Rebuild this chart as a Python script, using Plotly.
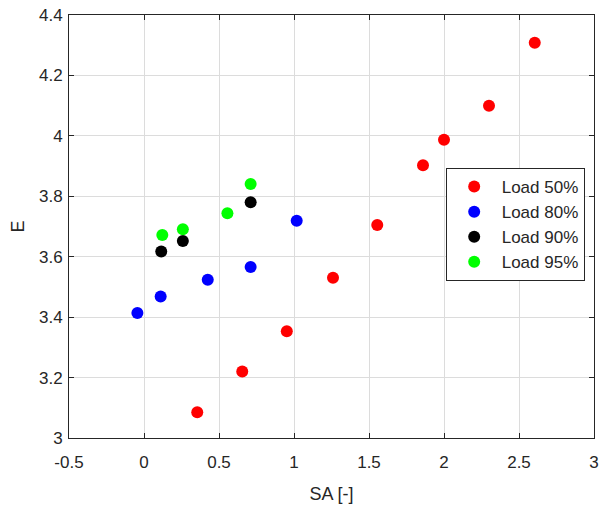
import plotly.graph_objects as go

sa_50 = [0.355, 0.655, 0.952, 1.26, 1.555, 1.86, 2.00, 2.30, 2.605]
e_50 = [3.085, 3.220, 3.353, 3.530, 3.705, 3.903, 3.987, 4.100, 4.308]

sa_80 = [-0.044, 0.111, 0.425, 0.711, 1.018]
e_80 = [3.414, 3.468, 3.524, 3.566, 3.719]

sa_90 = [0.115, 0.259, 0.711]
e_90 = [3.617, 3.652, 3.780]

sa_95 = [0.122, 0.259, 0.556, 0.711]
e_95 = [3.672, 3.691, 3.744, 3.841]

series = [
    ("Load 50%", sa_50, e_50, "#ff0000"),
    ("Load 80%", sa_80, e_80, "#0000ff"),
    ("Load 90%", sa_90, e_90, "#000000"),
    ("Load 95%", sa_95, e_95, "#00ff00"),
]

x_ticks = [-0.5, 0, 0.5, 1, 1.5, 2, 2.5, 3]
x_labels = ["-0.5", "0", "0.5", "1", "1.5", "2", "2.5", "3"]
y_ticks = [3, 3.2, 3.4, 3.6, 3.8, 4, 4.2, 4.4]
y_labels = ["3", "3.2", "3.4", "3.6", "3.8", "4", "4.2", "4.4"]

fig = go.Figure()
for name, xs, ys, col in series:
    fig.add_trace(go.Scatter(x=xs, y=ys, mode="markers", name=name,
                             marker=dict(color=col, size=12, line=dict(width=0))))

font = "Arial, Liberation Sans, sans-serif"
axis_common = dict(showgrid=True, gridcolor="#dcdcdc", gridwidth=1,
                   showline=True, linecolor="#262626", linewidth=1, mirror="ticks",
                   ticks="inside", ticklen=5, tickcolor="#262626", zeroline=False,
                   automargin=False, ticklabeloverflow="allow",
                   tickfont=dict(family=font, size=17, color="#262626"))

fig.update_layout(
    width=599, height=506,
    margin=dict(l=69, r=5, t=15, b=68),
    paper_bgcolor="white", plot_bgcolor="white",
    showlegend=True,
    legend=dict(x=0.7175, y=0.5, xanchor="left", yanchor="middle",
                bgcolor="white", bordercolor="#262626", borderwidth=1,
                font=dict(family=font, size=17, color="#262626"),
                tracegroupgap=0, itemwidth=45),
    xaxis=dict(range=[-0.5, 3], tickvals=x_ticks, ticktext=x_labels,
               title=dict(text="SA [-]", font=dict(family=font, size=18, color="#262626"), standoff=15),
               ticklabelstandoff=9,
               **axis_common),
    yaxis=dict(range=[3, 4.4], tickvals=y_ticks, ticktext=y_labels,
               title=dict(text="E", font=dict(family=font, size=18, color="#262626"), standoff=9),
               ticklabelstandoff=2,
               **axis_common),
)
# legend vertical centre in the reference is at ~224px, i.e. paper y of (438-224.5)/423
fig.layout.legend.y = (438 - 224.5) / 423

fig.write_html("out.html", config={"displayModeBar": False},
               post_script="document.body.style.margin='0';document.body.style.overflow='hidden';")
